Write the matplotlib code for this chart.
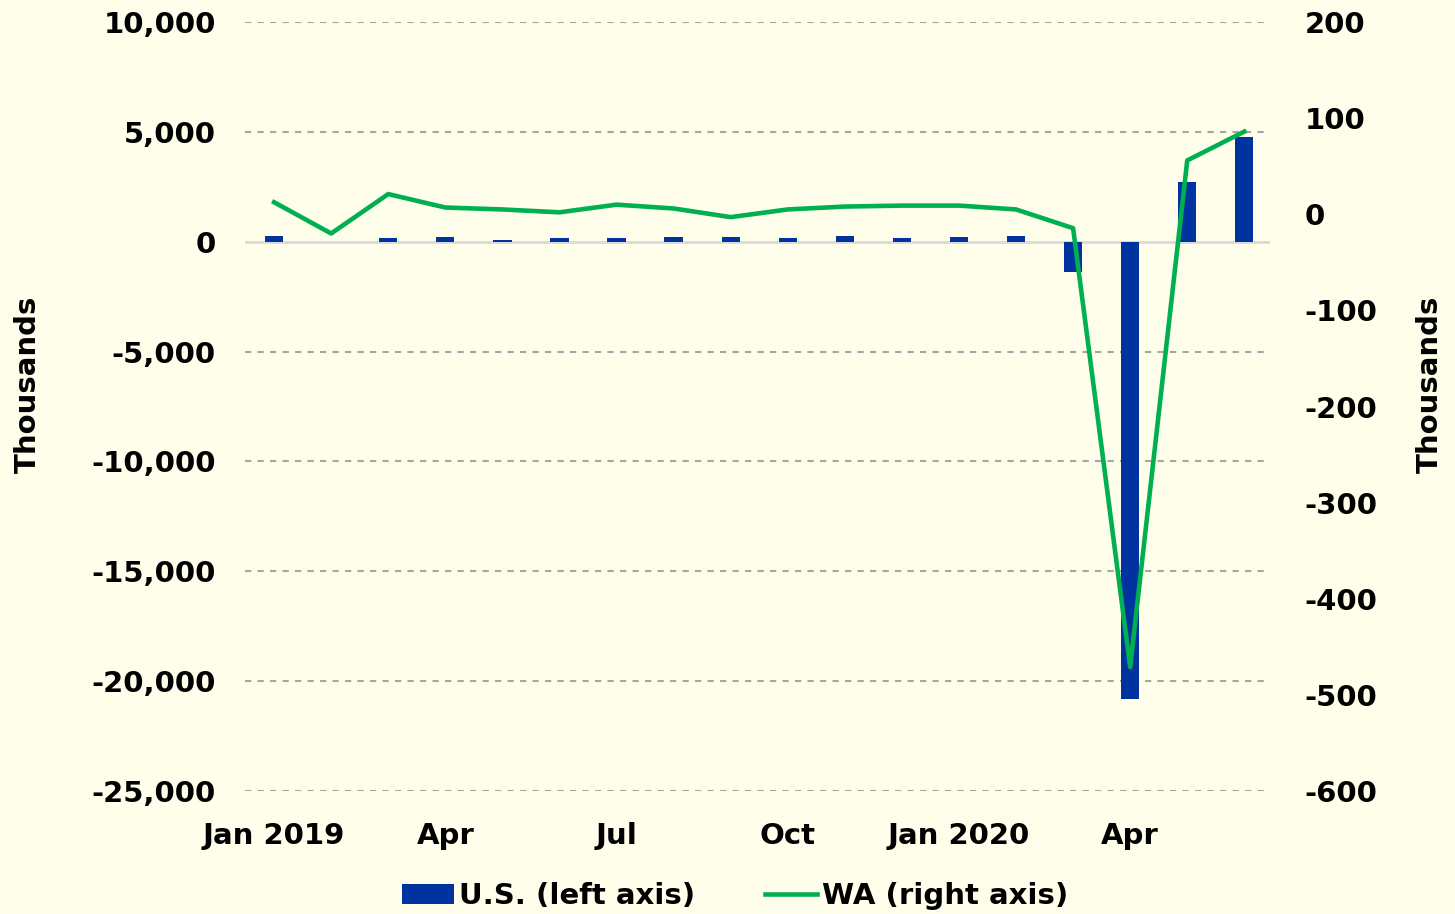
import matplotlib
matplotlib.use("Agg")
import matplotlib.pyplot as plt
import numpy as np

# Monthly change in nonfarm employment, thousands
months = ["Jan 2019", "Feb", "Mar", "Apr", "May", "Jun", "Jul", "Aug", "Sep",
          "Oct", "Nov", "Dec", "Jan 2020", "Feb", "Mar", "Apr", "May", "Jun"]
us_change = [270, 1, 150, 200, 60, 180, 190, 200, 200,
             160, 260, 150, 210, 270, -1370, -20790, 2700, 4780]
wa_change = [12.5, -20, 21, 7, 5, 2, 10, 6, -3,
             5, 8, 9, 9, 5, -14.5, -471, 56, 86]
tick_labels = ["Jan 2019", "Apr", "Jul", "Oct", "Jan 2020", "Apr"]

BG = "#FEFEEB"
BLUE = "#0033A0"
GREEN = "#00B050"
FS = 21

plt.rcParams["font.family"] = ["DejaVu Sans"]
plt.rcParams["font.weight"] = "bold"
plt.rcParams["axes.unicode_minus"] = False

fig = plt.figure(figsize=(14.55, 9.14), dpi=100, facecolor=BG)
ax = fig.add_axes([245 / 1455, 1 - 791 / 914, (1270 - 245) / 1455, (791 - 22) / 914])
ax.set_facecolor(BG)

x = np.arange(len(months))
ax.bar(x, us_change, width=0.32, color=BLUE, zorder=3, label="U.S. (left axis)")
ax.set_ylim(-25000, 10000)
ax.set_yticks(np.arange(-25000, 10001, 5000))
ax.set_yticklabels([f"{v:,}" for v in range(-25000, 10001, 5000)])
ax.set_xlim(-0.51, 17.45)
ax.set_xticks(x[::3])
ax.set_xticklabels(tick_labels)

for v in range(-25000, 10001, 5000):
    if v == 0:
        ax.axhline(0, color="#D9D9D9", lw=2, zorder=2)
    else:
        ax.axhline(v, color="#A6A6A6", lw=1.5, ls=(0, (3, 3)), zorder=1)

ax2 = ax.twinx()
ax2.plot(x, wa_change, color=GREEN, lw=3.3, zorder=4, label="WA (right axis)")
ax2.set_ylim(-600, 200)
ax2.set_yticks(np.arange(-600, 201, 100))

for a in (ax, ax2):
    for s in a.spines.values():
        s.set_visible(False)
    a.tick_params(length=0, labelsize=FS)
ax.tick_params(axis="y", pad=21)
ax.tick_params(axis="x", pad=22)
ax2.tick_params(axis="y", pad=25)

fig.text(28 / 1455, 1 - 384 / 914, "Thousands", rotation=90, ha="center",
         va="center", fontsize=FS, fontweight="bold")
fig.text(1430 / 1455, 1 - 384 / 914, "Thousands", rotation=90, ha="center",
         va="center", fontsize=FS, fontweight="bold")

h1, l1 = ax.get_legend_handles_labels()
h2, l2 = ax2.get_legend_handles_labels()
fig.legend(h1 + h2, l1 + l2, loc="center", bbox_to_anchor=(0.505, 1 - 896 / 914),
           ncol=2, frameon=False, fontsize=FS, handlelength=1.8,
           handletextpad=0.15, columnspacing=2.4)

fig.savefig("out.png", dpi=100, facecolor=BG)
